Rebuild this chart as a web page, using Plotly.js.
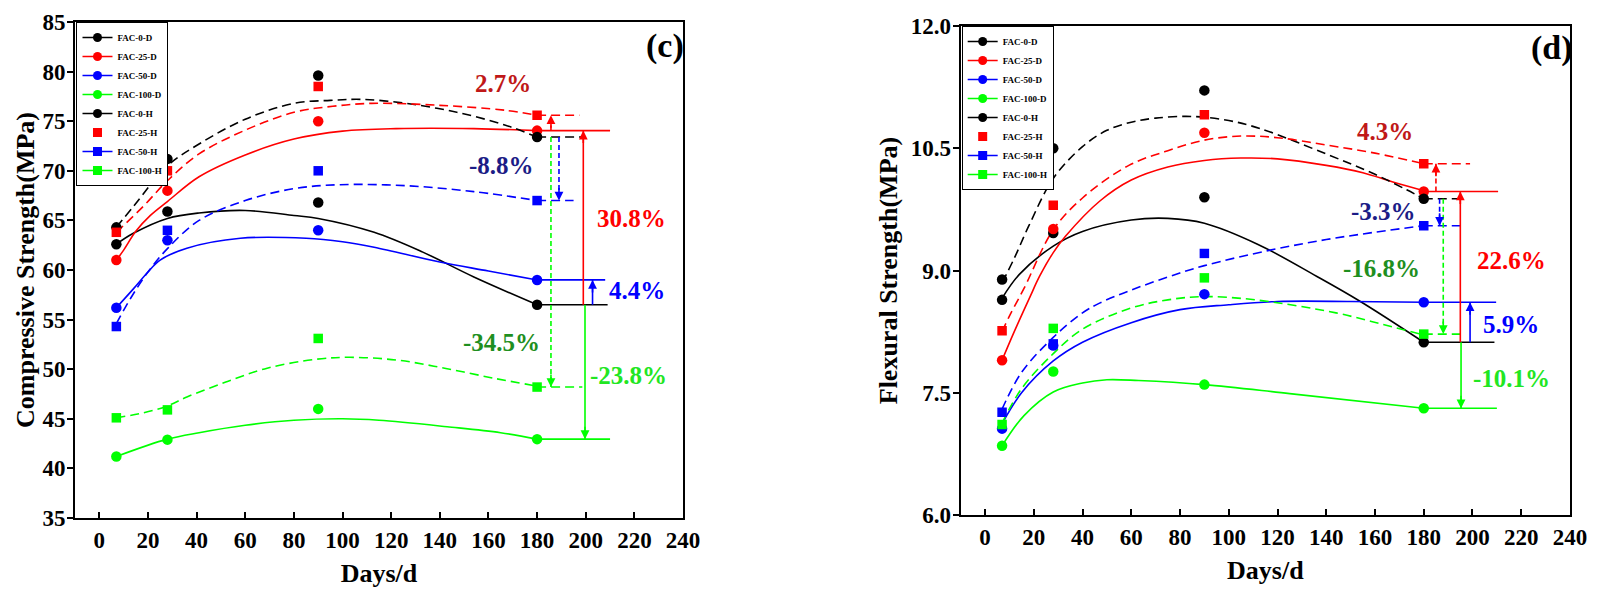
<!DOCTYPE html>
<html><head><meta charset="utf-8">
<script src="https://cdn.plot.ly/plotly-3.0.1.min.js"></script>
<style>html,body{margin:0;padding:0;background:#fff}</style>
</head><body>
<div id="chart" style="width:1598px;height:606px"></div>
<script>
// ---------- data ----------
const seriesNames = ['FAC-0-D','FAC-25-D','FAC-50-D','FAC-100-D','FAC-0-H','FAC-25-H','FAC-50-H','FAC-100-H'];
const days = [7, 28, 90, 180];

// (c) compressive strength, MPa
const comp0D   = [62.6, 65.9, 66.8, 56.5];
const comp25D  = [61.0, 68.0, 75.0, 74.05];
const comp50D  = [56.2, 63.0, 64.0, 59.0];
const comp100D = [41.2, 42.9, 46.0, 42.95];
const comp0H   = [64.3, 71.2, 79.6, 73.4];
const comp25H  = [63.8, 70.0, 78.5, 75.6];
const comp50H  = [54.3, 64.0, 70.0, 67.0];
const comp100H = [45.1, 45.9, 53.1, 48.2];

// (d) flexural strength, MPa
const flex0D   = [8.64, 9.46, 9.90, 8.12];
const flex25D  = [7.90, 9.51, 10.69, 9.97];
const flex50D  = [7.06, 8.08, 8.71, 8.61];
const flex100D = [6.85, 7.76, 7.60, 7.31];
const flex0H   = [8.89, 10.50, 11.21, 9.88];
const flex25H  = [8.26, 9.80, 10.91, 10.31];
const flex50H  = [7.26, 8.10, 9.21, 9.55];
const flex100H = [7.11, 8.29, 8.91, 8.22];

// fitted curves
const fitC0D_x   = [7,14,28,41,60,80,90,113,133,154,180];
const fitC0D_y   = [62.6,63.7,65.2,65.75,66.0,65.5,65.2,63.8,61.8,59.3,56.5];
const fitC25D_x  = [7,10,15,21,28,41,60,80,100,122,154,180];
const fitC25D_y  = [61.0,62.0,63.9,65.5,66.9,69.4,71.6,73.2,74.0,74.25,74.25,74.05];
const fitC50D_x  = [7,14,20,25,36,58,85,100,113,140,160,180];
const fitC50D_y  = [56.2,58.1,59.8,61.0,62.2,63.2,63.2,62.85,62.3,60.8,59.9,59.0];
const fitC100D_x = [7,28,41,60,80,100,115,143,165,180];
const fitC100D_y = [41.2,42.95,43.6,44.35,44.85,45.0,44.85,44.2,43.6,42.95];
const fitC0H_x   = [7,14,28,41,60,80,95,108,126,147,167,180];
const fitC0H_y   = [64.3,66.4,70.5,72.7,75.2,76.8,77.1,77.2,76.8,75.9,74.6,73.4];
const fitC25H_x  = [7,18,28,41,60,80,96,112,140,167,180];
const fitC25H_y  = [63.8,66.4,69.0,71.7,74.1,75.9,76.5,76.8,76.6,76.1,75.6];
const fitC50H_x  = [7,13,20,28,41,60,80,99,126,154,180];
const fitC50H_y  = [54.6,57.2,59.8,62.15,65.0,67.0,68.2,68.6,68.5,67.9,67.0];
const fitC100H_x = [7,18,28,36,52,69,89,103,123,143,163,180];
const fitC100H_y = [45.1,45.6,46.3,47.2,48.7,50.1,51.0,51.2,50.9,50.05,49.05,48.3];

const fitF0D_x   = [7,14,28,40,60,75,90,112,136,154,180];
const fitF0D_y   = [8.66,8.95,9.30,9.48,9.62,9.64,9.58,9.32,8.93,8.62,8.12];
const fitF25D_x  = [7,12,18.5,22.4,28,33,47,60,75,90,105,120,140,155,167,180];
const fitF25D_y  = [7.9,8.25,8.68,8.93,9.22,9.42,9.85,10.11,10.27,10.35,10.38,10.37,10.29,10.2,10.09,9.98];
const fitF50D_x  = [7,15,28,40,60,80,100,120,150,180];
const fitF50D_y  = [7.12,7.5,7.89,8.12,8.36,8.52,8.58,8.62,8.62,8.61];
const fitF100D_x = [7,16,28,40,50,63,90,125,180];
const fitF100D_y = [6.85,7.22,7.51,7.62,7.66,7.65,7.60,7.49,7.31];
const fitF0H_x   = [7,12,18,28,40,50,60,70,85,100,113,140,160,173,180];
const fitF0H_y   = [8.85,9.15,9.55,10.13,10.52,10.72,10.82,10.87,10.89,10.84,10.74,10.43,10.18,9.99,9.88];
const fitF25H_x  = [7,10,16,28,40,59,75,90,105,120,140,160,180];
const fitF25H_y  = [8.25,8.44,8.78,9.5,9.89,10.29,10.47,10.60,10.65,10.63,10.54,10.44,10.31];
const fitF50H_x  = [7,15,28,40,47,60,75,90,117,140,160,180];
const fitF50H_y  = [7.3,7.75,8.18,8.48,8.6,8.76,8.92,9.06,9.25,9.38,9.47,9.55];
const fitF100H_x = [7,15,28,40,60,75,90,111,144,163,180];
const fitF100H_y = [7.13,7.55,7.98,8.28,8.54,8.64,8.68,8.64,8.48,8.34,8.21];

// percentage labels
const compLabels = ['2.7%','-8.8%','-34.5%','30.8%','4.4%','-23.8%'];
const flexLabels = ['4.3%','-3.3%','-16.8%','22.6%','5.9%','-10.1%'];
const xTicks = [0,20,40,60,80,100,120,140,160,180,200,220,240];

// ---------- styles ----------
const FONT = 'Liberation Serif, Times New Roman, serif';
const colors = ['#000000','#ff0000','#0000ff','#00ff00'];
const labelColors = ['#c01818','#1c1c86','#1f8f1f','#ff0000','#0000ff','#22e622'];

const comp = {
  pts: [comp0D,comp25D,comp50D,comp100D,comp0H,comp25H,comp50H,comp100H],
  fx: [fitC0D_x,fitC25D_x,fitC50D_x,fitC100D_x,fitC0H_x,fitC25H_x,fitC50H_x,fitC100H_x],
  fy: [fitC0D_y,fitC25D_y,fitC50D_y,fitC100D_y,fitC0H_y,fitC25H_y,fitC50H_y,fitC100H_y],
  levelEnd: [209,210,208,210,198.6,197.4,195,198.6],
  xa:'x', ya:'y', legend:'legend',
  labels: compLabels,
  labelPos: [[166,78.8],[165.5,70.55],[165.5,52.7],[219,65.2],[221,57.9],[217.5,49.4]],
  arrowX: [185.7,189,185.7,199,202.8,199.7],
  panel:'(c)', panelPos:[232.5,82.6]
};
const flex = {
  pts: [flex0D,flex25D,flex50D,flex100D,flex0H,flex25H,flex50H,flex100H],
  fx: [fitF0D_x,fitF25D_x,fitF50D_x,fitF100D_x,fitF0H_x,fitF25H_x,fitF50H_x,fitF100H_x],
  fy: [fitF0D_y,fitF25D_y,fitF50D_y,fitF100D_y,fitF0H_y,fitF25H_y,fitF50H_y,fitF100H_y],
  levelEnd: [209,210.5,209.7,210,196,199,197,197],
  xa:'x2', ya:'y2', legend:'legend2',
  labels: flexLabels,
  labelPos: [[164,10.71],[163.5,9.73],[162.5,9.02],[216,9.12],[216,8.34],[216,7.67]],
  arrowX: [185,186.5,188,195,199,195.3],
  panel:'(d)', panelPos:[232.5,11.73]
};

const traces = [];
const shapes = [];
const annotations = [];
const last = days.length - 1;

function build(p){
  for(let i=0;i<8;i++){
    const c = colors[i%4];
    const dashed = i>=4;
    const lineStyle = {color:c, width:1.6, dash: dashed ? '9px,5px' : 'solid'};
    traces.push({x:p.fx[i], y:p.fy[i], xaxis:p.xa, yaxis:p.ya, mode:'lines',
      line:Object.assign({shape:'spline', smoothing:1}, lineStyle), showlegend:false, hoverinfo:'skip'});
    traces.push({x:[days[last], p.levelEnd[i]], y:[p.pts[i][last], p.pts[i][last]], xaxis:p.xa, yaxis:p.ya,
      mode:'lines', line:lineStyle, showlegend:false, hoverinfo:'skip'});
  }
  for(let i=0;i<8;i++){
    const c = colors[i%4];
    const sym = (i<5) ? 'circle' : 'square';
    traces.push({x:days, y:p.pts[i], xaxis:p.xa, yaxis:p.ya, mode:'markers', name:seriesNames[i],
      marker:{color:c, symbol:sym, size:(sym==='circle'?10.5:9.5)}, showlegend:false});
  }
  // legend entries
  for(let i=0;i<8;i++){
    const c = colors[i%4];
    const sym = (i<5) ? 'circle' : 'square';
    const withLine = (i!==5);
    traces.push({x:[null], y:[null], xaxis:p.xa, yaxis:p.ya, name:seriesNames[i], legend:p.legend,
      mode: withLine ? 'lines+markers' : 'markers',
      line:{color:c, width:1.6}, marker:{color:c, symbol:sym, size:9}});
  }
  // arrows: [from, to, color, dashed]
  const P = p.pts;
  const arrows = [
    [P[1][last], P[5][last], colors[1], true],
    [P[4][last], P[6][last], colors[2], true],
    [P[4][last], P[7][last], colors[3], true],
    [P[0][last], P[1][last], colors[1], false],
    [P[0][last], P[2][last], colors[2], false],
    [P[0][last], P[3][last], colors[3], false]
  ];
  arrows.forEach((a,k)=>{
    const x = p.arrowX[k];
    shapes.push({type:'line', xref:p.xa, yref:p.ya, x0:x, x1:x, y0:a[0], y1:a[1],
      line:{color:a[2], width:1.6, dash:a[3]?'5px,3px':'solid'}});
    const up = a[1] > a[0];
    annotations.push({xref:p.xa, yref:p.ya, x:x, y:a[1], ax:0, ay: up ? 14 : -14, text:'',
      showarrow:true, arrowhead:2, arrowsize:1.1, arrowwidth:1.6, arrowcolor:a[2], standoff:0});
  });
  p.labels.forEach((t,k)=>{
    annotations.push({xref:p.xa, yref:p.ya, x:p.labelPos[k][0], y:p.labelPos[k][1], text:t, showarrow:false,
      font:{family:FONT, size:25, weight:700, color:labelColors[k]}, xanchor:'center', yanchor:'middle'});
  });
  annotations.push({xref:p.xa, yref:p.ya, x:p.panelPos[0], y:p.panelPos[1], text:p.panel, showarrow:false,
    font:{family:FONT, size:34, weight:700, color:'#000'}, xanchor:'center', yanchor:'middle'});
}
build(comp);
build(flex);

const tickFont = {family:FONT, size:23, weight:700, color:'#000'};
const titleFont = {family:FONT, size:26, weight:700, color:'#000'};
function xAxis(domain, anchor){
  return {domain:domain, anchor:anchor, range:[-10,240], tickvals:xTicks, ticktext:xTicks.map(String),
    ticks:'inside', ticklen:6, tickwidth:2, tickcolor:'#000', showline:true, linewidth:2, linecolor:'#000',
    mirror:true, showgrid:false, zeroline:false, tickfont:tickFont, ticklabelstandoff:0,
    title:{text:'Days/d', font:titleFont, standoff:12}};
}
function yAxis(domain, anchor, range, dtick, fmt, title, standoff){
  return {domain:domain, anchor:anchor, range:range, dtick:dtick, tick0:range[0], tickformat:fmt,
    ticks:'outside', ticklen:6, tickwidth:2, tickcolor:'#000', showline:true, linewidth:2, linecolor:'#000',
    mirror:true, showgrid:false, zeroline:false, tickfont:tickFont, ticklabelstandoff:-3,
    title:{text:title, font:titleFont, standoff:standoff}};
}
const legendBase = {yanchor:'top', xanchor:'left', bgcolor:'#fff', bordercolor:'#000', borderwidth:1,
  font:{family:FONT, size:9, weight:700, color:'#000'}, tracegroupgap:0, itemwidth:30};

const layout = {
  width:1598, height:606,
  margin:{l:75, r:28, t:22, b:88},
  paper_bgcolor:'#fff', plot_bgcolor:'#fff',
  font:{family:FONT},
  xaxis: xAxis([0,0.4067],'y'),
  yaxis: yAxis([0,1],'x',[35,85],5,'d','Compressive Strength(MPa)',0),
  xaxis2: xAxis([0.5924,1],'y2'),
  yaxis2: yAxis([0.006,0.9919],'x2',[6,12],1.5,'.1f','Flexural Strength(MPa)',6),
  legend: Object.assign({x:0.001, y:1}, legendBase),
  legend2: Object.assign({x:0.5931, y:0.9919}, legendBase),
  shapes: shapes,
  annotations: annotations
};
Plotly.newPlot('chart', traces, layout, {displayModeBar:false, responsive:false});
</script>
</body></html>
